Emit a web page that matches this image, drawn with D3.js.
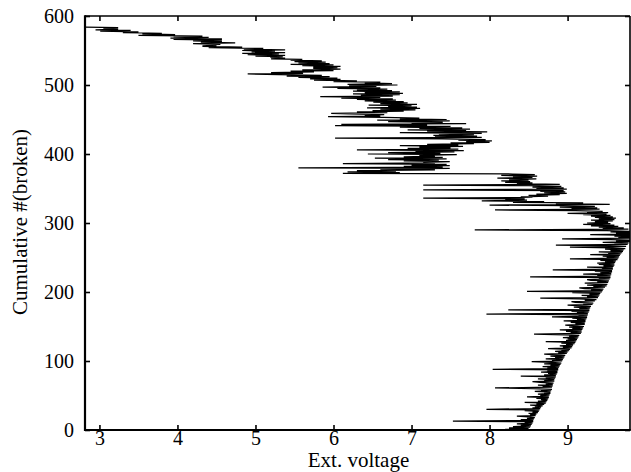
<!DOCTYPE html>
<html>
<head>
<meta charset="utf-8">
<script src="https://cdn.jsdelivr.net/npm/d3@7"></script>
<style>
  body { margin: 0; background: #fff; }
  text { font-family: "Liberation Serif", "Times New Roman", Times, serif; fill: #000; }
</style>
</head>
<body>
<svg id="chart" width="631" height="472"></svg>
<script>
// External voltage recorded at each successive fuse break (index = cumulative number broken)
const voltage = [
  8.45, 8.20, 8.50, 8.25, 8.52, 8.30, 8.53, 8.40, 8.54, 8.35,
  8.55, 8.45, 8.56, 7.53, 8.56, 8.40, 8.57, 8.48, 8.58, 8.50,
  8.35, 8.59, 8.52, 8.60, 8.50, 8.62, 8.55, 8.63, 8.45, 8.64,
  7.96, 8.65, 8.55, 8.66, 8.58, 8.68, 8.52, 8.70, 8.60, 8.72,
  8.45, 8.73, 8.62, 8.74, 8.66, 8.75, 8.60, 8.76, 8.48, 8.76,
  8.65, 8.77, 8.62, 8.78, 8.70, 8.78, 8.58, 8.79, 8.66, 8.80,
  8.55, 8.07, 8.80, 8.68, 8.81, 8.62, 8.81, 8.72, 8.82, 8.65,
  8.55, 8.83, 8.70, 8.83, 8.62, 8.84, 8.72, 8.85, 8.40, 8.85,
  8.70, 8.86, 8.75, 8.87, 8.66, 8.87, 8.74, 8.88, 8.04, 8.88,
  8.74, 8.89, 8.68, 8.90, 8.78, 8.91, 8.70, 8.92, 8.80, 8.54,
  8.93, 8.80, 8.94, 8.72, 8.95, 8.84, 8.96, 8.78, 8.97, 8.86,
  8.70, 8.99, 8.88, 9.00, 8.84, 9.02, 8.92, 9.03, 8.75, 9.05,
  8.94, 9.06, 8.90, 9.07, 8.98, 9.09, 8.92, 9.10, 8.72, 9.11,
  8.98, 9.12, 9.00, 9.13, 8.94, 9.14, 9.02, 9.15, 8.96, 8.57,
  9.17, 9.04, 9.18, 8.98, 9.18, 8.90, 9.19, 9.06, 9.20, 9.02,
  9.21, 9.08, 8.97, 9.22, 9.10, 9.22, 9.04, 9.23, 8.95, 9.23,
  9.12, 9.24, 9.06, 9.25, 8.80, 9.25, 9.14, 9.26, 7.96, 9.26,
  9.12, 9.27, 9.05, 9.28, 8.24, 9.28, 9.15, 9.29, 9.08, 9.30,
  9.18, 9.00, 9.32, 9.20, 9.33, 9.10, 9.05, 9.35, 9.22, 9.37,
  9.15, 8.65, 9.39, 9.25, 9.40, 9.18, 9.41, 9.28, 9.42, 9.06,
  9.44, 8.48, 9.45, 9.30, 9.46, 9.22, 9.15, 9.48, 9.33, 9.50,
  9.25, 9.51, 9.36, 9.22, 9.52, 9.38, 9.53, 9.30, 9.25, 9.54,
  9.40, 9.55, 8.52, 9.55, 9.38, 9.56, 9.20, 9.56, 9.42, 9.57,
  9.35, 9.57, 8.81, 9.58, 9.44, 9.58, 9.25, 9.59, 9.46, 9.60,
  9.40, 9.60, 9.38, 9.61, 9.48, 9.62, 9.42, 9.64, 9.03, 9.65,
  9.50, 9.66, 9.45, 9.67, 9.29, 9.68, 9.52, 9.70, 9.40, 9.71,
  9.55, 9.72, 9.48, 9.74, 9.58, 9.03, 9.75, 9.55, 8.85, 9.77,
  9.60, 9.78, 9.45, 9.80, 9.62, 9.82, 9.55, 8.93, 9.84, 9.65,
  9.85, 9.60, 9.85, 9.29, 9.84, 9.62, 9.82, 9.55, 9.80, 9.50,
  7.81, 9.78, 9.45, 9.72, 9.40, 9.65, 9.30, 9.60, 9.20, 9.55,
  9.25, 9.52, 9.35, 9.58, 9.30, 9.60, 9.40, 9.62, 9.35, 9.58,
  9.30, 9.55, 9.20, 9.50, 9.00, 9.52, 9.25, 9.45, 9.10, 8.07,
  9.41, 9.05, 9.38, 8.90, 9.35, 8.95, 8.00, 9.54, 8.85, 9.20,
  8.30, 8.70, 7.90, 8.48, 8.20, 8.45, 7.15, 8.55, 8.40, 8.75,
  8.50, 8.90, 8.60, 8.99, 8.70, 8.97, 8.65, 8.95, 7.15, 8.99,
  8.60, 8.95, 8.55, 8.92, 8.50, 7.15, 8.90, 8.35, 8.55, 8.20,
  8.52, 8.15, 8.50, 8.25, 8.60, 8.10, 8.55, 8.30, 8.61, 8.15,
  8.58, 8.30, 6.12, 6.85, 6.18, 6.80, 6.30, 7.30, 6.60, 7.49,
  5.55, 7.40, 6.90, 7.49, 7.00, 7.45, 6.12, 7.30, 7.15, 7.49,
  6.90, 7.35, 6.70, 7.45, 6.53, 7.40, 6.90, 7.30, 7.10, 7.58,
  6.44, 7.37, 6.70, 7.55, 7.05, 7.67, 6.30, 7.60, 6.95, 7.50,
  7.10, 7.66, 6.85, 7.60, 7.20, 7.80, 7.50, 8.00, 7.70, 8.03,
  7.60, 7.95, 7.40, 6.02, 7.90, 7.30, 7.84, 7.28, 7.80, 7.35,
  7.90, 6.85, 7.97, 7.20, 7.70, 6.95, 7.75, 7.10, 7.65, 6.85,
  7.50, 6.02, 7.20, 6.10, 7.70, 7.00, 7.40, 6.70, 7.49, 6.56,
  7.45, 6.85, 7.10, 6.64, 5.93, 6.60, 6.40, 6.65, 6.20, 5.97,
  6.69, 6.30, 6.90, 6.50, 7.05, 6.60, 7.11, 6.43, 7.07, 6.70,
  7.00, 6.45, 7.07, 6.60, 6.95, 6.51, 6.90, 6.40, 6.80, 6.30,
  6.76, 6.10, 6.60, 5.83, 6.76, 6.35, 6.85, 6.25, 6.89, 6.40,
  6.85, 6.25, 6.75, 6.30, 6.69, 6.05, 6.60, 5.86, 6.55, 6.20,
  6.82, 6.18, 6.75, 6.40, 6.60, 6.00, 6.30, 5.75, 6.09, 5.70,
  6.05, 5.55, 5.95, 5.40, 5.85, 5.30, 4.90, 5.61, 5.20, 5.75,
  5.45, 6.00, 5.60, 6.09, 5.74, 6.05, 5.74, 6.09, 5.60, 6.00,
  5.45, 5.95, 5.55, 5.90, 5.50, 5.85, 5.45, 5.60, 5.20, 5.38,
  5.19, 5.35, 5.00, 5.38, 4.90, 5.30, 4.83, 5.38, 4.95, 5.25,
  4.83, 5.38, 4.85, 5.10, 4.40, 4.83, 4.32, 4.50, 4.32, 4.55,
  4.20, 4.74, 4.30, 4.57, 4.20, 4.57, 3.95, 4.57, 3.91, 4.40,
  3.95, 4.32, 3.50, 3.97, 3.55, 3.80, 3.30, 3.50, 3.01, 3.40,
  2.95, 3.24, 3.05, 3.24, 2.82
];

const xTicks = [3, 4, 5, 6, 7, 8, 9];
const yTicks = [0, 100, 200, 300, 400, 500, 600];
const xDomain = [2.815, 9.8];
const yDomain = [0, 600];
const xLabel = "Ext. voltage";
const yLabel = "Cumulative #(broken)";

const svg = d3.select("#chart");
const plotLeft = 85, plotRight = 630, plotTop = 16, plotBottom = 430;
const fontSize = 20;

const x = d3.scaleLinear().domain(xDomain).range([plotLeft, plotRight]);
const y = d3.scaleLinear().domain(yDomain).range([plotBottom, plotTop]);

// one point per break: cumulative count against the voltage at which it occurred
const points = voltage.map((v, i) => ({ n: i, v }));

svg.append("defs").append("clipPath").attr("id", "plot-clip")
  .append("rect")
  .attr("x", plotLeft).attr("y", plotTop)
  .attr("width", plotRight - plotLeft).attr("height", plotBottom - plotTop);

const line = d3.line().x(d => x(d.v)).y(d => y(d.n));

svg.append("path")
  .datum(points)
  .attr("clip-path", "url(#plot-clip)")
  .attr("fill", "none")
  .attr("stroke", "#000")
  .attr("stroke-width", 1.25)
  .attr("stroke-linejoin", "miter")
  .attr("stroke-miterlimit", 2)
  .attr("d", line);

// axes with inward ticks on all four sides
function styleAxis(g) {
  g.select(".domain").remove();
  g.selectAll(".tick line").attr("stroke", "#000").attr("stroke-width", 1.6);
  g.selectAll(".tick text").attr("font-size", fontSize)
    .style("font-family", '"Liberation Serif", "Times New Roman", serif');
}

svg.append("g")
  .attr("transform", `translate(0,${plotBottom})`)
  .call(d3.axisBottom(x).tickValues(xTicks).tickSize(-5).tickSizeOuter(0).tickPadding(1).tickFormat(d3.format("d")))
  .call(styleAxis);

svg.append("g")
  .attr("transform", `translate(${plotLeft},0)`)
  .call(d3.axisLeft(y).tickValues(yTicks).tickSize(-5).tickSizeOuter(0).tickPadding(11).tickFormat(d3.format("d")))
  .call(styleAxis);

svg.append("g")
  .attr("transform", `translate(0,${plotTop})`)
  .call(d3.axisTop(x).tickValues(xTicks).tickSize(-5).tickSizeOuter(0).tickFormat(""))
  .call(styleAxis);

svg.append("g")
  .attr("transform", `translate(${plotRight},0)`)
  .call(d3.axisRight(y).tickValues(yTicks).tickSize(-5).tickSizeOuter(0).tickFormat(""))
  .call(styleAxis);

// frame: heavier left and bottom edges
const frame = svg.append("g").attr("stroke", "#000").attr("fill", "none");
frame.append("line").attr("x1", plotLeft).attr("x2", plotRight).attr("y1", plotTop).attr("y2", plotTop).attr("stroke-width", 1.6);
frame.append("line").attr("x1", plotRight).attr("x2", plotRight).attr("y1", plotTop).attr("y2", plotBottom).attr("stroke-width", 1.6);
frame.append("line").attr("x1", plotLeft).attr("x2", plotLeft).attr("y1", plotTop - 0.8).attr("y2", plotBottom + 1).attr("stroke-width", 2.2);
frame.append("line").attr("x1", plotLeft - 1).attr("x2", plotRight + 0.8).attr("y1", plotBottom).attr("y2", plotBottom).attr("stroke-width", 2.2);

svg.append("text")
  .attr("x", (plotLeft + plotRight) / 2 + 1)
  .attr("y", 467)
  .attr("text-anchor", "middle")
  .attr("font-size", 21)
  .text(xLabel);

svg.append("text")
  .attr("transform", `translate(27,${(plotTop + plotBottom) / 2 - 1}) rotate(-90)`)
  .attr("text-anchor", "middle")
  .attr("font-size", 21)
  .text(yLabel);
</script>
</body>
</html>
